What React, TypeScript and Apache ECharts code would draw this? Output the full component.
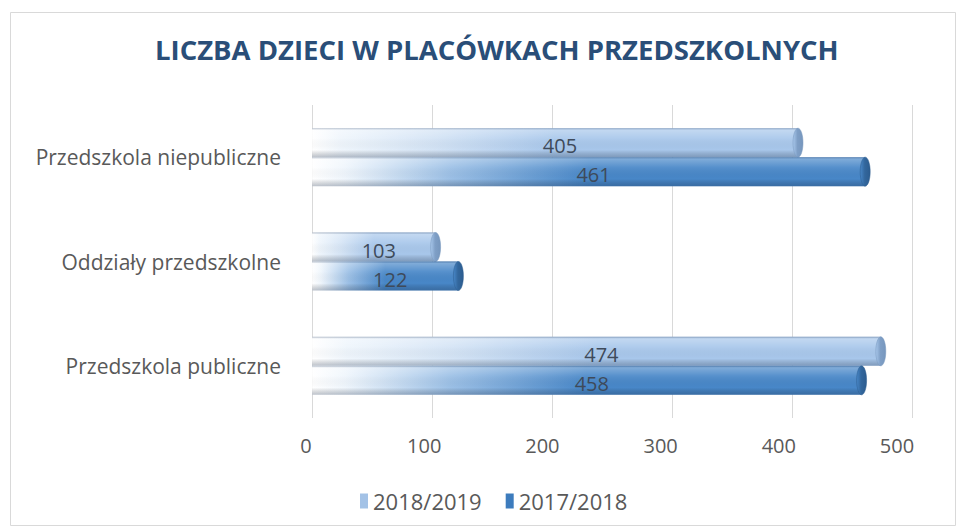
import React, { useEffect, useRef } from "react";
import * as echarts from "echarts";

const categories = ["Przedszkola publiczne", "Oddziały przedszkolne", "Przedszkola niepubliczne"];
const seriesNames = ["2018/2019", "2017/2018"];
const values2018_2019 = [474, 103, 405];
const values2017_2018 = [458, 122, 461];
const xTicks = [0, 100, 200, 300, 400, 500];
const title = "LICZBA DZIECI W PLACÓWKACH PRZEDSZKOLNYCH";

const palette = [
  { main: "#a8c7eb", mid: "#d3e3f5", cap: "#7f9fc6", edge: "#7696bd", legend: "#a3c2e6" },
  { main: "#4887c8", mid: "#9cc0e6", cap: "#33679d", edge: "#2c5c8f", legend: "#3d7cbd" },
];

export default function App() {
  const ref = useRef<HTMLDivElement>(null);
  useEffect(() => {
    if (!ref.current) return;
    const chart = echarts.init(ref.current, undefined, { renderer: "svg" });
    const barH = 29;
    const makeSeries = (idx: number, vals: number[]) => ({
      type: "custom",
      name: seriesNames[idx],
      itemStyle: { color: palette[idx].legend },
      encode: { x: 0, y: 1 },
      data: vals.map((v, i) => [v, i]),
      xAxisIndex: 0,
      yAxisIndex: 0,
      z: 2,
      renderItem: (params: any, api: any) => {
        const v = api.value(0);
        const c = api.value(1);
        const start = api.coord([0, c]);
        const end = api.coord([v, c]);
        const y = start[1] + (idx === 0 ? -barH : 0);
        const w = end[0] - start[0];
        const col = palette[idx];
        return {
          type: "group",
          children: [
            {
              type: "rect",
              shape: { x: start[0], y, width: w, height: barH },
              style: {
                fill: new echarts.graphic.LinearGradient(0, 0, 1, 0, [
                  { offset: 0, color: "rgba(255,255,255,0.9)" },
                  { offset: 0.06, color: "rgba(238,245,252,0.95)" },
                  { offset: 0.25, color: col.mid },
                  { offset: 0.5, color: col.main },
                  { offset: 1, color: col.main },
                ]),
              },
            },
            {
              type: "rect",
              shape: { x: start[0], y, width: w, height: barH },
              style: {
                fill: new echarts.graphic.LinearGradient(0, 0, 0, 1, [
                  { offset: 0, color: "rgba(80,100,130,0.45)" },
                  { offset: 0.07, color: "rgba(255,255,255,0.3)" },
                  { offset: 0.35, color: "rgba(255,255,255,0.08)" },
                  { offset: 0.75, color: "rgba(0,0,0,0)" },
                  { offset: 1, color: "rgba(20,40,70,0.28)" },
                ]),
              },
            },
            {
              type: "ellipse",
              shape: { cx: end[0], cy: y + barH / 2, rx: 5, ry: barH / 2 },
              style: {
                fill: new echarts.graphic.LinearGradient(0, 0, 1, 0, [
                  { offset: 0, color: col.main },
                  { offset: 0.45, color: col.cap },
                  { offset: 1, color: col.edge },
                ]),
                stroke: col.edge,
                lineWidth: 0.5,
              },
            },
            {
              type: "text",
              style: {
                text: String(v),
                x: start[0] + w / 2 + 5,
                y: y + barH / 2 + 3,
                align: "center",
                verticalAlign: "middle",
                fontSize: 20,
                fontFamily: "Open Sans",
                fill: "#3e4a5a",
              },
            },
          ],
        };
      },
    });
    chart.setOption({
      animation: false,
      backgroundColor: "#ffffff",
      title: {
        text: title,
        left: 150,
        top: 30,
        textStyle: {
          fontFamily: "Open Sans",
          fontWeight: "bold",
          fontSize: 27.5,
          color: "#2a4e78",
        },
      },
      legend: {
        bottom: 14,
        left: 355,
        icon: "rect",
        itemWidth: 8,
        itemHeight: 15,
        itemGap: 24,
        textStyle: { fontFamily: "Open Sans", fontSize: 22, color: "#595959" },
        data: seriesNames,
      },
      grid: [
        { left: 312, right: 51, top: 105, bottom: 113, containLabel: false },
        { left: 306, right: 66, top: 105, bottom: 113, containLabel: false },
      ],
      xAxis: [
        {
          type: "value",
          gridIndex: 0,
          min: 0,
          max: 500,
          interval: 100,
          axisLine: { show: false },
          axisTick: { show: false },
          splitLine: { lineStyle: { color: "#d9d9d9", width: 1 } },
          axisLabel: { show: false },
        },
        {
          type: "value",
          gridIndex: 1,
          min: 0,
          max: 500,
          interval: 100,
          axisLine: { show: false },
          axisTick: { show: false },
          splitLine: { show: false },
          axisLabel: {
            margin: 17,
            fontFamily: "Open Sans",
            fontSize: 20,
            color: "#595959",
            formatter: (val: number) => (xTicks.includes(val) ? String(val) : ""),
          },
        },
      ],
      yAxis: [
        {
          type: "category",
          gridIndex: 0,
          data: categories,
          axisLine: { show: false },
          axisTick: { show: false },
          splitLine: { show: false },
          axisLabel: {
            margin: 31,
            padding: [26, 0, 0, 0],
            fontFamily: "Open Sans",
            fontSize: 21,
            color: "#595959",
          },
        },
        {
          type: "category",
          gridIndex: 1,
          data: categories,
          show: false,
        },
      ],
      graphic: [
        {
          type: "rect",
          shape: { x: 10.5, y: 12.5, width: 945, height: 513 },
          style: { fill: "none", stroke: "#d9d9d9", lineWidth: 1 },
          silent: true,
        },
      ],
      series: [makeSeries(0, values2018_2019), makeSeries(1, values2017_2018)],
    });
    return () => chart.dispose();
  }, []);
  return <div ref={ref} style={{ position: "fixed", left: 0, top: 0, width: 963, height: 531 }} />;
}
